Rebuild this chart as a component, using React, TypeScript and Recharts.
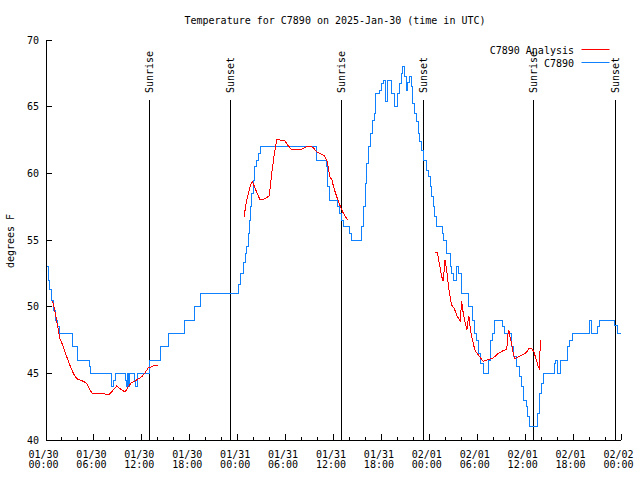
import React from 'react';
import {
  LineChart,
  Line,
  XAxis,
  YAxis,
  ReferenceLine,
  Legend,
} from 'recharts';

// hours since 2025-01-30 00:00 UTC, temperature in F
const stationObs: [number, number][] = [
  [0, 53], [0.3, 52], [0.45, 51.3], [0.75, 50.5], [0.9, 50], [1.0, 49.7], [1.25, 49],
  [1.5, 48.5], [1.75, 48], [3.3, 47], [3.9, 46], [5.4, 45.5], [5.55, 45],
  [8.25, 44], [8.5, 44.5], [8.65, 45], [10.0, 44.5], [10.1, 44], [10.2, 45],
  [10.35, 44], [10.45, 45], [11.1, 44.5], [11.25, 44], [11.4, 45], [13.0, 46],
  [14.3, 47], [15.4, 48], [17.4, 49], [18.6, 50], [19.4, 51], [24.1, 51.7],
  [24.4, 52.5], [24.7, 53.3], [24.95, 54], [25.1, 54.5], [25.3, 55.5], [25.45, 56.5],
  [25.6, 57.5], [25.75, 58.5], [25.95, 59.5], [26.15, 60.5], [26.35, 61], [26.55, 61.5],
  [26.8, 62], [33.85, 61], [35.15, 60.5], [35.3, 59], [35.5, 58], [36.45, 57.5],
  [36.8, 57], [37.0, 56.5], [37.2, 56], [37.95, 55.5], [38.2, 55], [39.55, 56],
  [39.75, 57.5], [39.95, 59.25], [40.15, 60.75], [40.35, 62], [40.6, 63], [40.9, 64],
  [41.1, 64.5], [41.3, 66], [41.75, 66.25], [42.0, 66.75], [42.2, 67], [42.55, 65.4],
  [42.75, 67], [43.3, 66], [43.6, 65], [44.0, 66], [44.3, 66.75], [44.5, 67.5],
  [44.7, 68], [44.9, 67.25], [45.1, 66.25], [45.3, 66.8], [45.55, 67.25], [45.75, 66.5],
  [45.95, 65.25], [46.2, 64.5], [46.4, 63.9], [46.6, 63], [46.8, 62.4], [47.0, 61.75],
  [47.25, 61], [47.6, 60.25], [47.9, 59.75], [48.1, 59], [48.3, 58.25], [48.5, 57.5],
  [48.7, 56.75], [48.85, 56], [49.6, 55.5], [49.75, 55], [50.2, 54], [50.6, 53],
  [50.8, 52.5], [51.0, 52], [51.4, 53], [51.7, 52.5], [52.05, 51], [52.9, 50],
  [53.4, 49], [53.6, 48], [53.9, 47.5], [54.1, 46.5], [54.45, 45.75], [54.75, 45],
  [55.35, 46], [55.6, 47.5], [55.9, 48], [56.15, 49], [57.15, 48.5], [57.45, 48],
  [58.3, 47], [58.6, 46.25], [58.95, 45.5], [59.3, 44.75], [59.55, 44], [59.85, 43],
  [60.15, 42.5], [60.35, 41.75], [60.55, 41], [61.6, 42], [61.8, 43.5], [62.0, 44.25],
  [62.25, 45], [63.7, 45.75], [63.85, 46], [64.05, 45], [64.45, 46], [65.25, 47],
  [65.6, 47.5], [65.95, 48], [68.05, 49], [68.3, 48], [69.0, 48.5], [69.3, 49],
  [71.15, 48.6], [71.5, 48], [72, 48],
];

// analysis runs (gaps between them)
const analysisNight1: [number, number][] = [
  [0.84, 50.4], [1.04, 49.9], [1.25, 49.25], [1.54, 48.25], [1.75, 47.6], [2.17, 47],
  [2.59, 46.25], [3.0, 45.6], [3.42, 45], [3.84, 44.6], [4.67, 44.4], [5.1, 44.25],
  [5.5, 43.75], [5.8, 43.5], [7.17, 43.5], [7.6, 43.4], [7.9, 43.4], [8.2, 43.6],
  [8.85, 44.05], [9.5, 43.75], [9.9, 43.6], [10.3, 44], [10.7, 44.3], [11.35, 44.5],
  [12.0, 44.75], [12.4, 45.05], [12.8, 45.4], [13.45, 45.55], [14.05, 45.6],
];

const analysisDay2: [number, number][] = [
  [24.8, 56.75], [25.13, 58], [25.55, 59], [25.83, 59.4], [26.17, 58.9], [26.8, 58],
  [27.4, 58.1], [27.96, 58.3], [28.26, 60], [28.6, 61.5], [28.9, 62.55], [29.3, 62.5],
  [29.9, 62.45], [30.3, 62.1], [30.8, 61.75], [31.4, 61.8], [32.0, 61.8], [32.65, 62],
  [33.05, 62.05], [33.5, 61.9], [33.9, 61.6], [34.3, 61.5], [34.9, 61.3], [35.2, 60.9],
  [35.4, 60.25], [35.55, 59.75], [35.8, 59.5], [36.05, 58.9], [36.4, 58.25], [36.8, 57.6],
  [37.2, 57.05], [37.65, 56.6], [37.85, 56.5],
];

const analysisDay3: [number, number][] = [
  [48.7, 54.1], [49.0, 54.1], [49.25, 53.25], [49.55, 52.25], [49.75, 51.9], [49.96, 53.5],
  [50.17, 52.75], [50.4, 51.5], [50.6, 50.75], [50.8, 50.1], [51.1, 49.9], [51.4, 49.4],
  [51.85, 48.9], [52.05, 50.4], [52.25, 49.5], [52.45, 48.9], [52.7, 48.25], [52.8, 48.75],
  [52.95, 49.3], [53.1, 48.5], [53.3, 47.75], [53.5, 47.25], [53.7, 46.75], [54.1, 46.4],
  [54.5, 46.1], [54.75, 45.9], [55.2, 46], [55.8, 46.1], [56.2, 46.25], [56.65, 46.5],
  [57.25, 46.7], [57.7, 46.8], [57.8, 47.75], [57.95, 48.25], [58.1, 47.75], [58.3, 47.25],
  [58.5, 46.5], [58.7, 46.1], [59.15, 46.25], [59.75, 46.4], [60.2, 46.6], [60.5, 46.9],
  [60.8, 46.9], [61.1, 46.6], [61.35, 46.1], [61.65, 45.5], [61.75, 45.4], [61.85, 46.5],
  [61.9, 47.5],
];

const sunEventHours = [13.02, 23.15, 37.03, 47.25, 61.02, 71.37];
const sunEventNames = ['Sunrise', 'Sunset', 'Sunrise', 'Sunset', 'Sunrise', 'Sunset'];

const xTicks = [0, 2, 4, 6, 8, 10, 12, 14, 16, 18, 20, 22, 24, 26, 28, 30, 32, 34, 36, 38, 40, 42, 44, 46, 48, 50, 52, 54, 56, 58, 60, 62, 64, 66, 68, 70, 72];
const dayLabels = ['01/30', '01/31', '02/01', '02/02'];
const hourLabels = ['00:00', '06:00', '12:00', '18:00'];
const yTicks = [40, 45, 50, 55, 60, 65, 70];

const toRows = (pts: [number, number][]) => pts.map(([t, v]) => ({ t, v }));

const FONT = '"DejaVu Sans Mono", monospace';
const OBS_BLUE = '#0f80ff';
const ANA_RED = '#ff0000';

const BottomTick = (props: any) => {
  const { x, y, payload } = props;
  const t = payload.value;
  const major = t % 6 === 0;
  return (
    <g>
      <line x1={x} x2={x} y1={y} y2={y - (major ? 6 : 3)} stroke="#000" shapeRendering="crispEdges" />
      {major && (
        <text x={x - 2.5} y={y + 18} textAnchor="middle" fontSize={10} fontFamily={FONT} fill="#000">
          <tspan x={x - 2.5}>{dayLabels[Math.floor(t / 24)]}</tspan>
          <tspan x={x - 2.5} dy={10}>{hourLabels[(t % 24) / 6]}</tspan>
        </text>
      )}
    </g>
  );
};

const TopTick = (props: any) => {
  const { x, y, payload } = props;
  const major = payload.value % 6 === 0;
  return <line x1={x} x2={x} y1={y} y2={y + (major ? 6 : 3)} stroke="#000" shapeRendering="crispEdges" />;
};

const LeftTick = (props: any) => {
  const { x, y, payload } = props;
  return (
    <g>
      <line x1={x} x2={x + 6} y1={y} y2={y} stroke="#000" shapeRendering="crispEdges" />
      <text x={x - 7} y={y + 3.5} textAnchor="end" fontSize={10} fontFamily={FONT} fill="#000">
        {payload.value}
      </text>
    </g>
  );
};

const RightTick = (props: any) => {
  const { x, y } = props;
  return <line x1={x} x2={x - 6} y1={y} y2={y} stroke="#000" shapeRendering="crispEdges" />;
};

const sunLabel = (name: string) => (props: any) => {
  const vb = props.viewBox || {};
  return (
    <text
      transform={`translate(${vb.x + 3.5},${vb.y - 7}) rotate(-90)`}
      textAnchor="start"
      fontSize={10}
      fontFamily={FONT}
      fill="#000"
    >
      {name}
    </text>
  );
};

const renderLegend = () => (
  <svg width={141} height={30} style={{ display: 'block' }}>
    <text x={94} y={13.5} textAnchor="end" fontSize={10} fontFamily={FONT} fill="#000">C7890 Analysis</text>
    <line x1={101.5} x2={129.5} y1={9.5} y2={9.5} stroke={ANA_RED} />
    <text x={94} y={26.5} textAnchor="end" fontSize={10} fontFamily={FONT} fill="#000">C7890</text>
    <line x1={101.5} x2={129.5} y1={22.5} y2={22.5} stroke={OBS_BLUE} />
  </svg>
);

export default function App() {
  const axisLine = { stroke: '#000', shapeRendering: 'crispEdges' } as any;
  return (
    <div style={{ position: 'absolute', left: 0, top: 0, width: 640, height: 480, background: '#fff', overflow: 'hidden' }}>
      <div
        style={{
          position: 'absolute', left: 0, top: 15, width: 670, textAlign: 'center',
          fontFamily: FONT, fontSize: 10, lineHeight: '12px', color: '#000', whiteSpace: 'nowrap',
        }}
      >
        Temperature for C7890 on 2025-Jan-30 (time in UTC)
      </div>
      <LineChart width={640} height={480} margin={{ top: 40, right: 19, bottom: 0, left: 0 }}>
        <XAxis
          dataKey="t"
          type="number"
          domain={[0, 72]}
          allowDataOverflow
          ticks={xTicks}
          interval={0}
          height={40}
          tickSize={0}
          tickMargin={0}
          tick={<BottomTick />}
          axisLine={axisLine}
        />
        <XAxis
          xAxisId="top"
          orientation="top"
          dataKey="t"
          type="number"
          domain={[0, 72]}
          allowDataOverflow
          ticks={xTicks}
          interval={0}
          height={0}
          tickSize={0}
          tickMargin={0}
          tick={<TopTick />}
          axisLine={axisLine}
        />
        <YAxis
          type="number"
          domain={[40, 70]}
          allowDataOverflow
          ticks={yTicks}
          interval={0}
          width={46}
          tickSize={0}
          tickMargin={0}
          tick={<LeftTick />}
          axisLine={axisLine}
          label={{
            content: (p: any) => {
              const vb = p.viewBox || {};
              return (
                <text
                  transform={`translate(13.5,${vb.y + vb.height / 2 + 1}) rotate(-90)`}
                  textAnchor="middle"
                  fontSize={10}
                  fontFamily={FONT}
                  fill="#000"
                >
                  degrees F
                </text>
              );
            },
          }}
        />
        <YAxis
          yAxisId="right"
          orientation="right"
          type="number"
          domain={[40, 70]}
          allowDataOverflow
          ticks={yTicks}
          interval={0}
          width={0}
          tickSize={0}
          tickMargin={0}
          tick={<RightTick />}
          axisLine={axisLine}
        />
        <Legend
          layout="horizontal"
          verticalAlign="middle"
          align="center"
          content={renderLegend}
          wrapperStyle={{ position: 'absolute', left: 480, top: 40, width: 141, height: 30 }}
        />
        {sunEventHours.map((h, i) => (
          <ReferenceLine
            key={`sun-${i}`}
            segment={[{ x: h, y: 40 }, { x: h, y: 65.5 }]}
            stroke="#000"
            strokeWidth={1}
            shapeRendering="crispEdges"
            label={{ content: sunLabel(sunEventNames[i]) }}
          />
        ))}
        <Line
          data={toRows(stationObs)}
          dataKey="v"
          type="stepAfter"
          stroke={OBS_BLUE}
          strokeWidth={1}
          dot={false}
          activeDot={false}
          isAnimationActive={false}
          shapeRendering="crispEdges"
        />
        {[analysisNight1, analysisDay2, analysisDay3].map((seg, i) => (
          <Line
            key={`ana-${i}`}
            data={toRows(seg)}
            dataKey="v"
            type="linear"
            stroke={ANA_RED}
            strokeWidth={1}
            dot={false}
            activeDot={false}
            isAnimationActive={false}
            shapeRendering="crispEdges"
          />
        ))}
      </LineChart>
    </div>
  );
}
